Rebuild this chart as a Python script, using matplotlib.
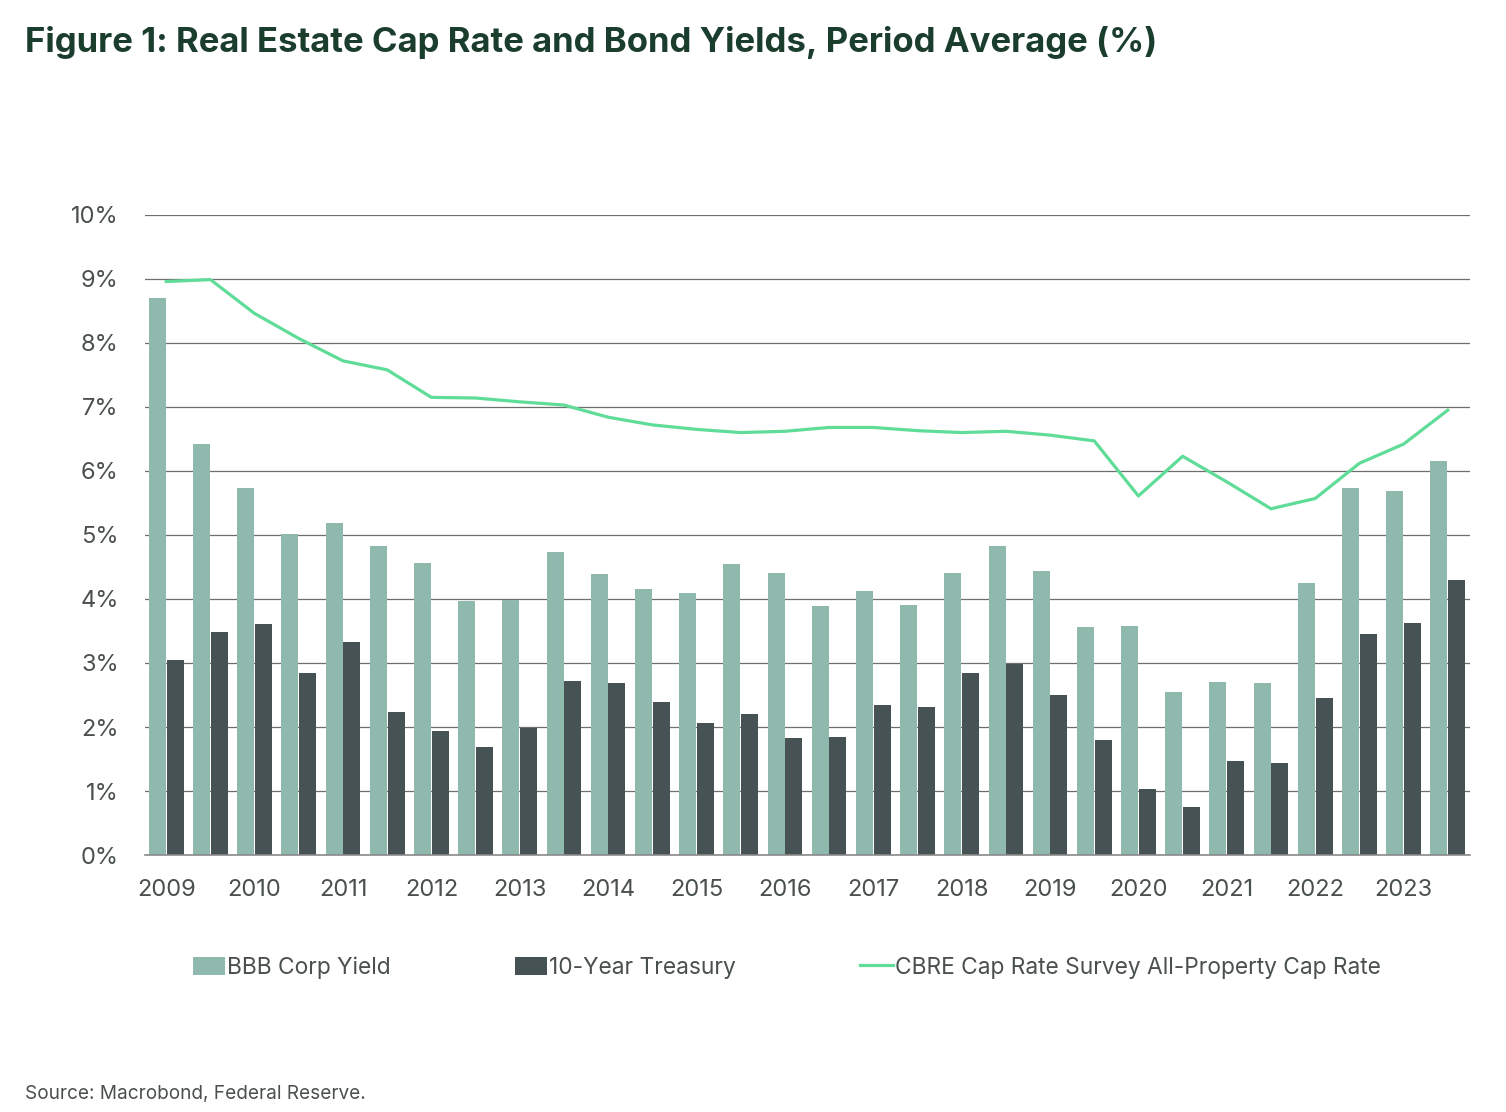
import numpy as np
import matplotlib
matplotlib.use("Agg")
import matplotlib.pyplot as plt
from matplotlib.lines import Line2D
import matplotlib.patches as mpatches

# ── 데이터 (반기 평균, %) ──
years = [str(y) for y in range(2009, 2024)]
periods = [f"{y} H{h}" for y in years for h in (1, 2)]

bbb_yield = [8.71, 6.42, 5.73, 5.01, 5.18, 4.83, 4.57, 3.97, 3.98, 4.74,
             4.39, 4.15, 4.10, 4.55, 4.41, 3.89, 4.12, 3.90, 4.41, 4.83,
             4.44, 3.56, 3.58, 2.55, 2.71, 2.69, 4.25, 5.73, 5.69, 6.15]
treasury_10y = [3.04, 3.49, 3.61, 2.84, 3.33, 2.24, 1.93, 1.68, 1.98, 2.72,
                2.69, 2.39, 2.07, 2.21, 1.83, 1.85, 2.35, 2.31, 2.84, 2.99,
                2.50, 1.79, 1.03, 0.75, 1.47, 1.43, 2.45, 3.45, 3.62, 4.29]
cap_rate = [8.96, 8.99, 8.46, 8.07, 7.72, 7.58, 7.15, 7.14, 7.08, 7.03,
            6.84, 6.72, 6.65, 6.60, 6.62, 6.68, 6.68, 6.63, 6.60, 6.62,
            6.56, 6.47, 5.61, 6.23, 5.83, 5.41, 5.57, 6.12, 6.42, 6.95]

C_BBB  = "#8fb9ad"
C_UST  = "#465254"
C_CAP  = "#5fdc97"
C_TEXT = "#4a4f50"
C_TITLE = "#1b3d2e"

plt.rcParams["font.family"] = ["Inter", "DejaVu Sans"]

fig = plt.figure(figsize=(15.06, 11.12), dpi=100)
ax = fig.add_axes([0.0963, 0.2311, 0.8797, 0.5756])

x = np.arange(len(periods))
w = 0.385
ax.bar(x - 0.2, bbb_yield, w, color=C_BBB, zorder=2)
ax.bar(x + 0.2, treasury_10y, w, color=C_UST, zorder=2)
ax.plot(x, cap_rate, color=C_CAP, lw=2.3, zorder=3)

ax.set_ylim(0, 10)
ax.set_xlim(-0.48, len(periods) - 0.5)
ax.set_yticks(range(0, 11))
ax.set_yticklabels([f"{v}%" for v in range(0, 11)])
ax.set_xticks(x[::2])
ax.set_xticklabels(years)
ax.yaxis.grid(True, color="#6e6e6e", lw=0.9, zorder=0)
ax.set_axisbelow(True)
for s in ["top", "right", "left"]:
    ax.spines[s].set_visible(False)
ax.spines["bottom"].set_color("#8a8a8a")
ax.spines["bottom"].set_linewidth(1.2)
ax.tick_params(axis="both", length=0, labelsize=17, colors=C_TEXT)
ax.tick_params(axis="y", pad=19)
ax.tick_params(axis="x", pad=17)

fig.text(0.0166, 0.962, "Figure 1: Real Estate Cap Rate and Bond Yields, Period Average (%)",
         fontsize=25, fontweight="bold", color=C_TITLE, va="center", ha="left")

handles = [
    mpatches.Patch(facecolor=C_BBB, label="BBB Corp Yield"),
    mpatches.Patch(facecolor=C_UST, label="10-Year Treasury"),
    Line2D([0], [0], color=C_CAP, lw=2.3, label="CBRE Cap Rate Survey All-Property Cap Rate"),
]
leg = fig.legend(handles=handles, loc="center left", bbox_to_anchor=(0.128, 0.130),
                 ncol=3, frameon=False, fontsize=16.4, handlelength=1.42,
                 handleheight=0.85, handletextpad=0.09, columnspacing=5.45,
                 borderaxespad=0, borderpad=0)
for t in leg.get_texts():
    t.set_color(C_TEXT)

fig.text(0.0166, 0.016, "Source: Macrobond, Federal Reserve.", fontsize=13.7,
         color=C_TEXT, va="center", ha="left")

fig.savefig("out.png", dpi=100, facecolor="white")
